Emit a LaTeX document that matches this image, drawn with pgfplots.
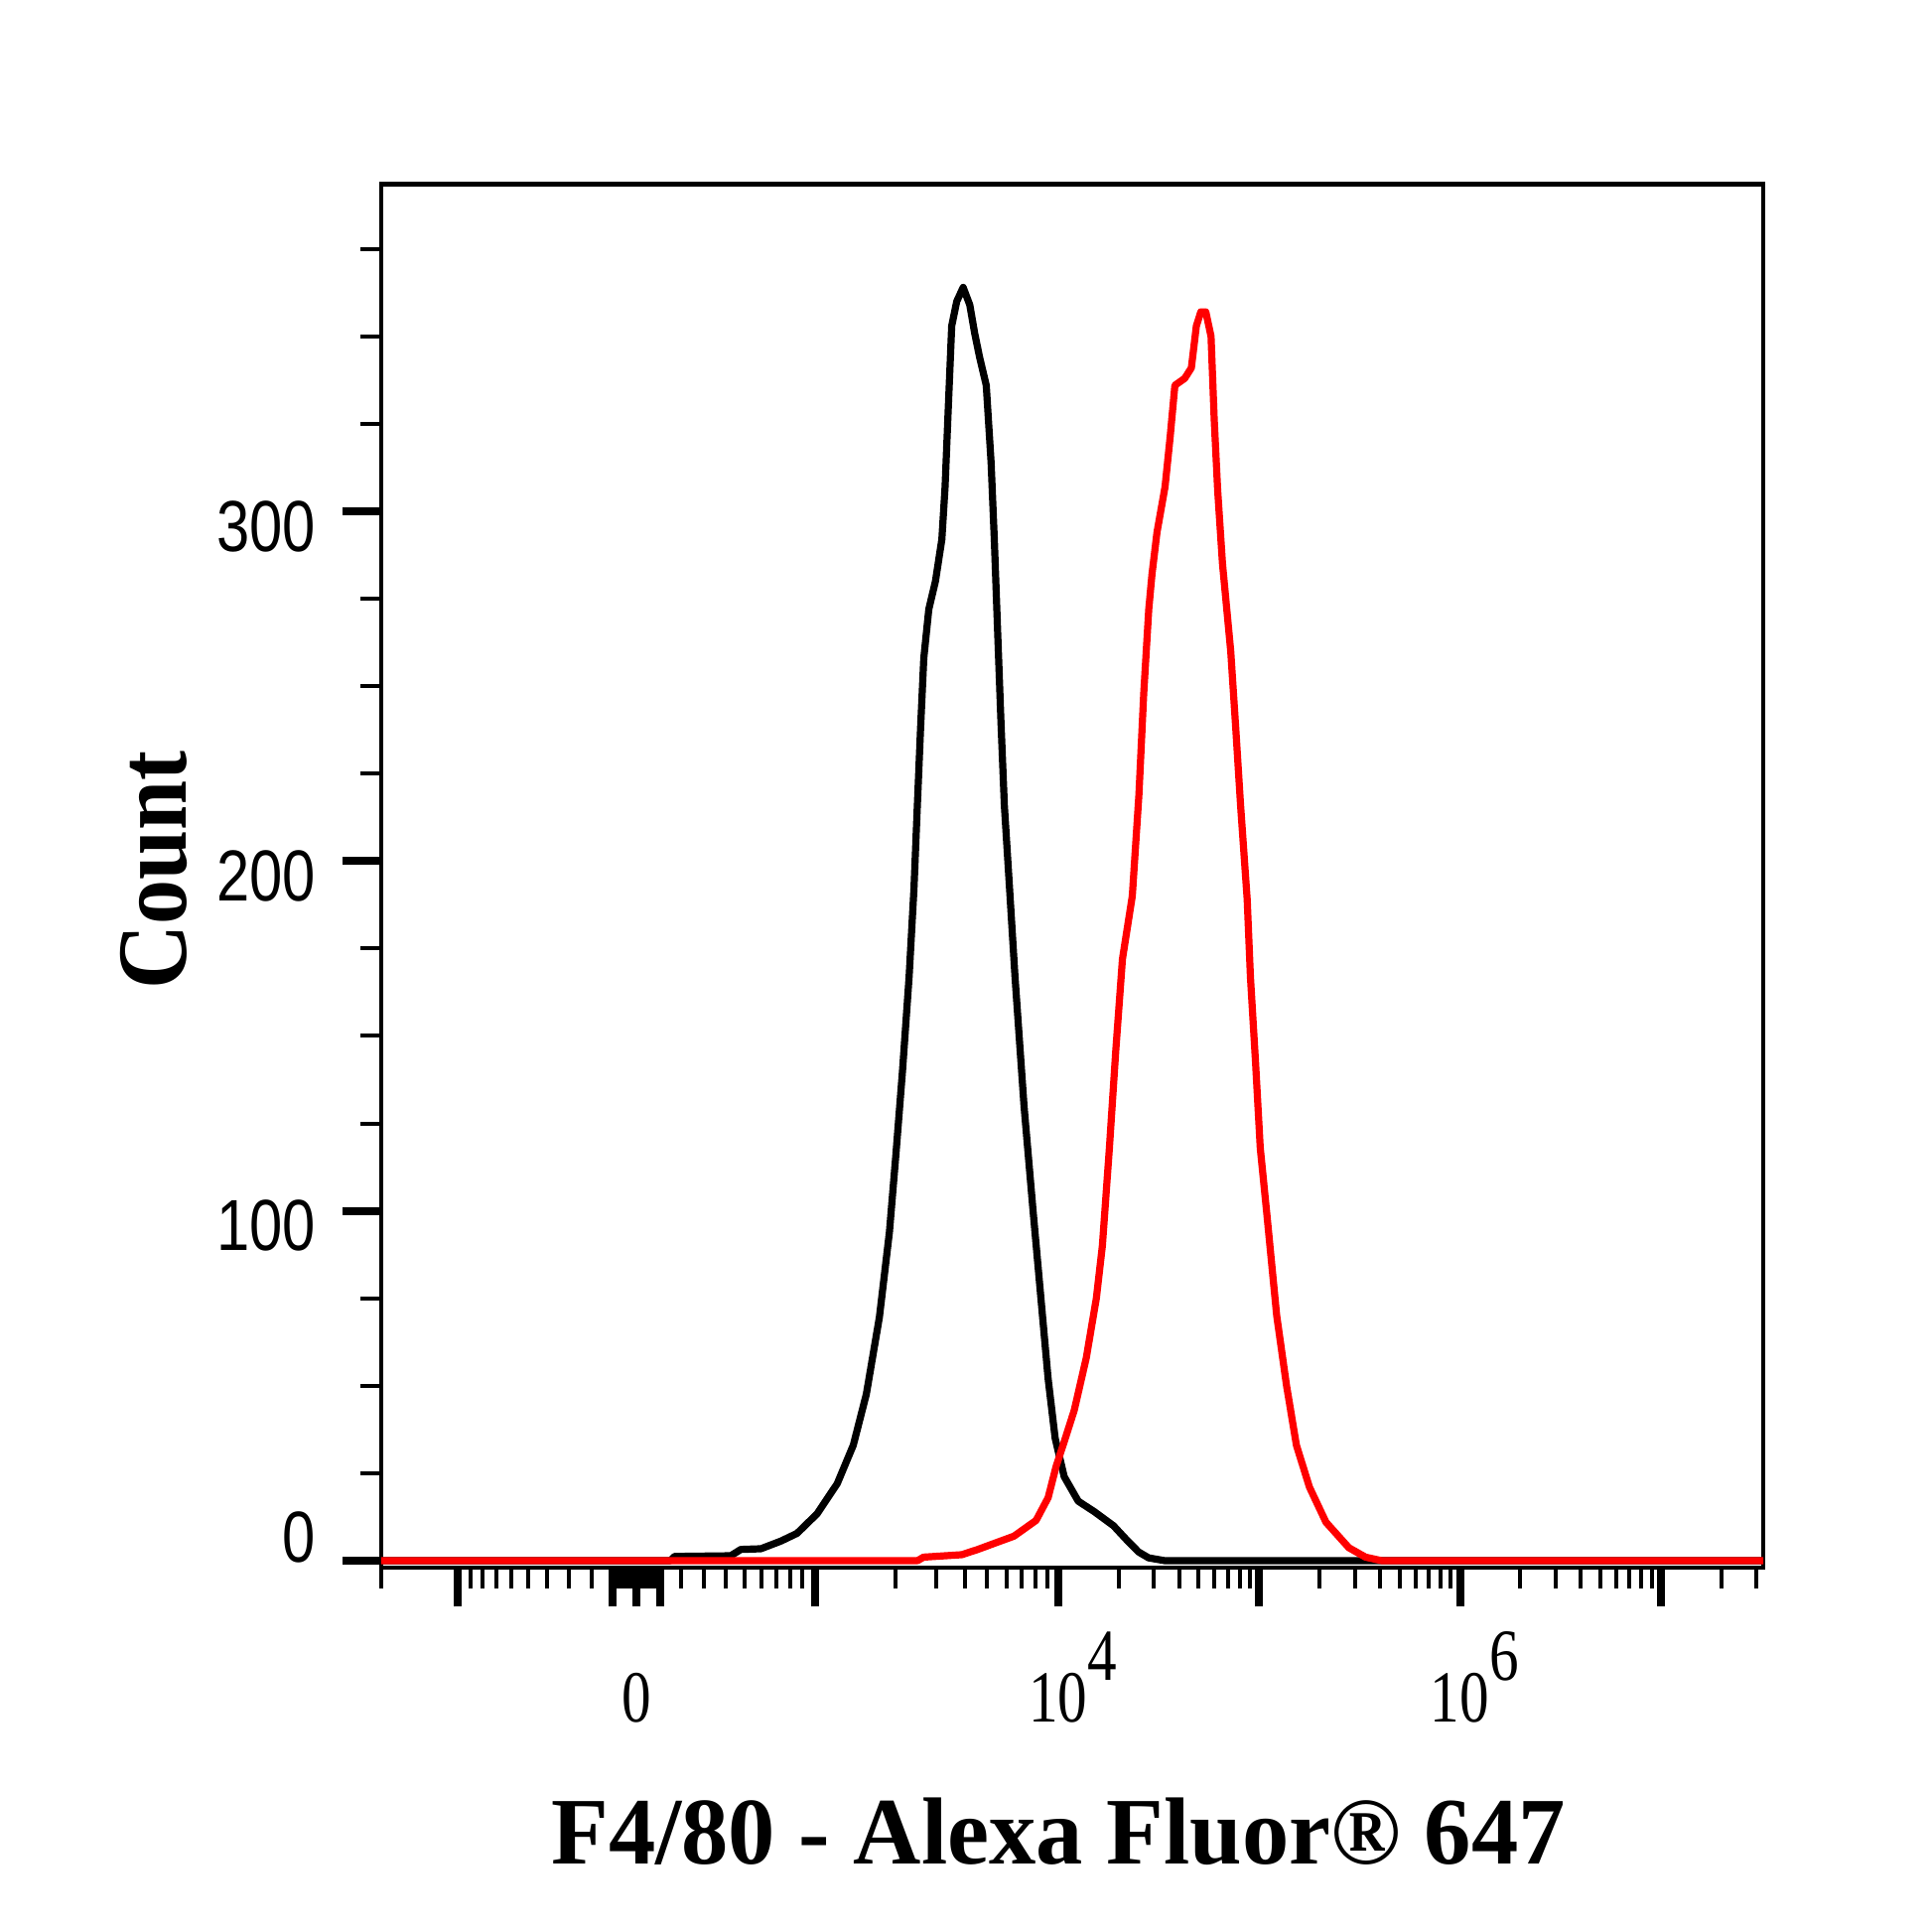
\documentclass[border=0pt]{standalone}
\usepackage{fontspec}
\usepackage{pgfplots}
\pgfplotsset{compat=1.18}
\newfontfamily\ytf[FakeStretch=0.82]{Liberation Sans}
\newfontfamily\xtf[FakeStretch=0.8]{Liberation Serif}
\newfontfamily\ylf[FakeStretch=0.9]{Liberation Serif}
\newfontfamily\xlf[FakeStretch=0.985]{Liberation Serif}
\begin{document}
\begin{tikzpicture}
\path[use as bounding box] (-96pt,-91.75pt) rectangle (390.5pt,394.75pt);
\begin{axis}[
  scale only axis, width=348pt, height=348.35pt,
  at={(0,0)}, anchor=south west,
  xmin=-1.27, xmax=5.61, ymin=-2, ymax=393.5,
  axis line style={line width=1.2pt},
  tick align=outside, xtick pos=bottom, ytick pos=left,
  major tick length=9.75pt, minor tick length=5.2pt,
  major tick style={line width=2pt, black},
  minor tick style={line width=1pt, black},
  xtick={-0.89,-0.118,0,0.118,0.89,2.1,3.1,4.1,5.1},
  xticklabels={,,0,,,{10\rlap{\raisebox{10.5pt}{4}}},,{10\rlap{\raisebox{10.5pt}{6}}},},
  minor xtick={-1.27,
    -0.826,-0.767,-0.699,-0.624,-0.539,-0.446,-0.335,-0.221,
    -0.106,-0.094,-0.083,-0.071,-0.059,-0.047,-0.035,-0.024,-0.012,
    0.012,0.024,0.035,0.047,0.059,0.071,0.083,0.094,0.106,
    0.221,0.335,0.446,0.539,0.624,0.699,0.767,0.826,
    1.288,1.493,1.637,1.746,1.842,1.92,1.987,2.047,
    2.401,2.577,2.702,2.799,2.878,2.945,3.003,3.054,
    3.401,3.577,3.702,3.799,3.878,3.945,4.003,4.054,
    4.401,4.577,4.702,4.799,4.878,4.945,5.003,5.054,
    5.401,5.577},
  ytick={100,200,300},
  yticklabels={100,200,300},
  minor ytick={25,50,75,125,150,175,225,250,275,325,350,375},
  extra y ticks={0}, extra y tick labels={0},
  extra y tick style={yticklabel style={yshift=9.75pt}},
  yticklabel style={font=\ytf\fontsize{18.2}{20}\selectfont, anchor=east, inner sep=0pt, xshift=-6.5pt, yshift=-3.75pt},
  xticklabel style={font=\xtf\fontsize{18.5}{20}\selectfont, anchor=base, inner sep=0pt, yshift=-29pt},
  xlabel={F4/80 - Alexa Fluor® 647},
  xlabel style={font=\xlf\bfseries\fontsize{24}{26}\selectfont, at={(axis description cs:0.5,0)}, anchor=base, inner sep=0pt, yshift=-74.5pt, xshift=-3.5pt},
  ylabel={Count},
  ylabel style={font=\ylf\bfseries\fontsize{25}{27}\selectfont, at={(axis description cs:-0.1415,0.5043)}, anchor=base, inner sep=0pt},
]
\addplot[black, line width=1.8pt, line join=round] coordinates {
(-1.27,0) (0.17,0) (0.19,1.2) (0.47,1.4) (0.52,3.2) (0.62,3.4) (0.72,5.6) (0.80,7.8)
(0.90,13.4) (1.00,22) (1.08,33) (1.145,47.6) (1.21,69.6) (1.26,94) (1.292,116) (1.325,140)
(1.358,167) (1.382,192) (1.399,216) (1.415,238) (1.431,258) (1.456,272) (1.489,280) (1.521,292)
(1.537,307) (1.554,331) (1.57,353) (1.595,360) (1.627,364) (1.66,359) (1.684,351) (1.709,344)
(1.742,336) (1.766,314) (1.782,292) (1.799,265) (1.815,240) (1.832,216) (1.856,194) (1.885,167)
(1.93,130) (1.975,100) (2.011,77) (2.05,52) (2.085,35) (2.13,24) (2.2,17) (2.28,14)
(2.375,10) (2.44,6) (2.5,2.5) (2.55,0.8) (2.63,0) (5.61,0)
};
\addplot[red, line width=1.8pt, line join=round] coordinates {
(-1.27,0) (1.40,0) (1.43,1.0) (1.62,1.7) (1.70,3.2) (1.78,4.9) (1.88,7) (1.99,11.5)
(2.05,18) (2.09,27) (2.13,34) (2.18,43) (2.24,58) (2.29,75) (2.32,90) (2.355,118)
(2.387,146) (2.42,172) (2.469,190) (2.502,219) (2.526,248) (2.551,272) (2.567,282) (2.592,294)
(2.632,307) (2.657,321) (2.681,336) (2.73,338) (2.763,341) (2.788,353) (2.81,357) (2.835,357)
(2.861,350) (2.877,326) (2.894,306) (2.918,285) (2.959,260) (2.984,238) (3.008,216) (3.041,189)
(3.057,167) (3.082,143) (3.106,118) (3.139,99) (3.188,70) (3.237,50) (3.286,33) (3.351,21)
(3.433,11) (3.547,3.7) (3.63,1) (3.71,0) (5.61,0)
};
\end{axis}
\end{tikzpicture}
\end{document}
